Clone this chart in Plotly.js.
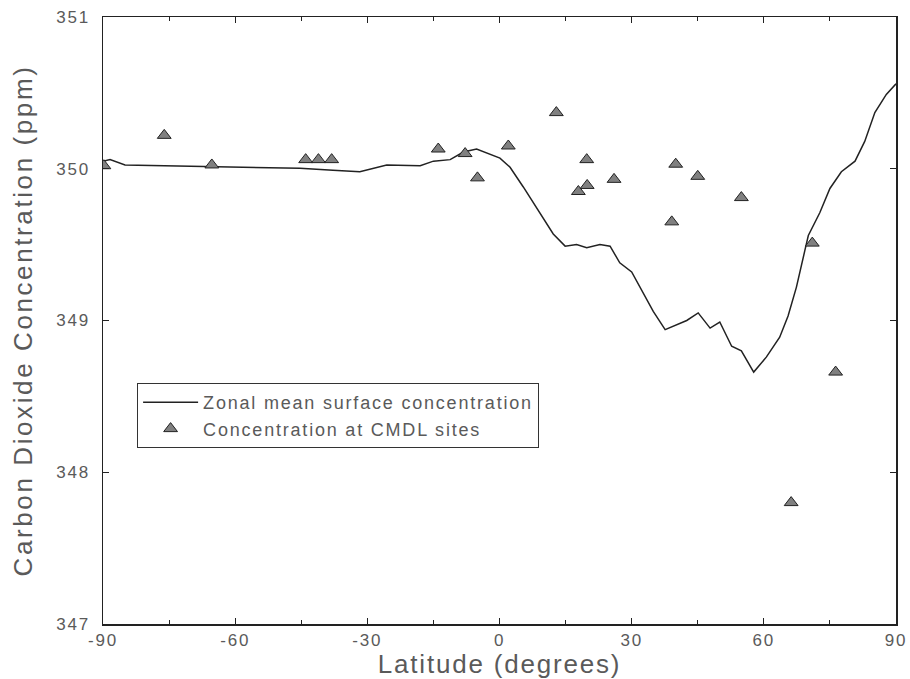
<!DOCTYPE html>
<html>
<head>
<meta charset="utf-8">
<script src="https://cdn.plot.ly/plotly-3.0.1.min.js"></script>
<style>
html,body{margin:0;padding:0;background:#fff;}
#chart{width:910px;height:679px;}
text{letter-spacing:1.8px;}
text.ytitle{letter-spacing:2.6px;}
</style>
</head>
<body>
<div id="chart"></div>
<script>
// Zonal mean surface concentration (latitude, ppm)
const lineLat = [-90, -88.4, -85, -75, -65, -55, -45.3, -37.8, -31.7, -25.6, -18, -15, -11.2, -8.2, -5.2, 0.1, 2.4, 5.4, 12.2, 14.9, 17.5, 19.8, 22.8, 25.1, 27.3, 30, 34.9, 37.6, 42.5, 45.1, 47.8, 50, 52.7, 54.9, 57.7, 60.6, 63.6, 65.5, 67.4, 69.3, 70.1, 72.7, 75, 77.6, 80.7, 82.9, 85.2, 87.8, 90];
const lineVal = [350.05, 350.06, 350.025, 350.02, 350.01, 350.005, 350.003, 349.99, 349.98, 350.025, 350.02, 350.05, 350.06, 350.11, 350.13, 350.07, 350.01, 349.88, 349.57, 349.49, 349.50, 349.48, 349.50, 349.49, 349.38, 349.32, 349.06, 348.94, 349.0, 349.05, 348.95, 348.99, 348.83, 348.80, 348.66, 348.76, 348.89, 349.03, 349.22, 349.46, 349.56, 349.71, 349.87, 349.98, 350.05, 350.18, 350.37, 350.49, 350.56];

// Concentration at CMDL sites
const siteLat = [-89.8, -76.1, -65.3, -44, -41.1, -38.1, -13.9, -7.8, -5, 2, 12.9, 17.9, 19.8, 19.9, 26, 39.1, 40, 45, 54.9, 66.2, 71, 76.3];
const siteVal = [350.02, 350.22, 350.025, 350.06, 350.06, 350.06, 350.13, 350.10, 349.94, 350.15, 350.37, 349.85, 350.06, 349.89, 349.93, 349.65, 350.03, 349.95, 349.81, 347.80, 349.51, 348.66];

const xTicks = [-90, -60, -30, 0, 30, 60, 90];
const yTicks = [347, 348, 349, 350, 351];

const txt = '#5a5a5a';
const fontFam = '"Liberation Sans", Arial, sans-serif';

const traces = [
  {
    x: lineLat, y: lineVal, type: 'scatter', mode: 'lines',
    name: 'Zonal mean surface concentration',
    line: {color: '#222', width: 1.5}
  },
  {
    x: siteLat, y: siteVal, type: 'scatter', mode: 'markers',
    name: 'Concentration at CMDL sites',
    marker: {symbol: 'triangle-up', size: 12, color: '#808080', line: {color: '#222', width: 1}}
  }
];

const layout = {
  width: 910, height: 679,
  margin: {l: 103, r: 14, t: 17, b: 55},
  paper_bgcolor: '#fff', plot_bgcolor: '#fff',
  font: {family: fontFam, color: txt, size: 18},
  showlegend: true,
  legend: {
    x: 0.043, y: 0.397, xanchor: 'left', yanchor: 'top',
    bgcolor: '#fff', bordercolor: '#333', borderwidth: 1,
    font: {size: 18, color: txt, family: fontFam},
    tracegroupgap: 0, itemwidth: 55
  },
  xaxis: {
    range: [-90, 90], tickvals: xTicks, ticktext: xTicks.map(String),
    ticks: 'inside', ticklen: 6, tickcolor: '#222', mirror: 'ticks',
    showline: true, linecolor: '#222', linewidth: 1.5, showgrid: false, zeroline: false,
    minor: {dtick: 15, ticks: 'inside', ticklen: 4, tickcolor: '#222'},
    tickfont: {size: 17, color: txt},
    title: {text: 'Latitude (degrees)', font: {size: 26, color: txt}, standoff: 3},
    automargin: false
  },
  yaxis: {
    range: [347, 351], tickvals: yTicks, ticktext: yTicks.map(String),
    ticks: 'inside', ticklen: 6, tickcolor: '#222', mirror: 'ticks',
    showline: true, linecolor: '#222', linewidth: 1.5, showgrid: false, zeroline: false,
    tickfont: {size: 17, color: txt}, ticklabelstandoff: 8,
    title: {text: 'Carbon Dioxide Concentration (ppm)', font: {size: 26, color: txt}, standoff: 16},
    automargin: false
  }
};

Plotly.newPlot('chart', traces, layout, {displayModeBar: false, staticPlot: true});
</script>
</body>
</html>
